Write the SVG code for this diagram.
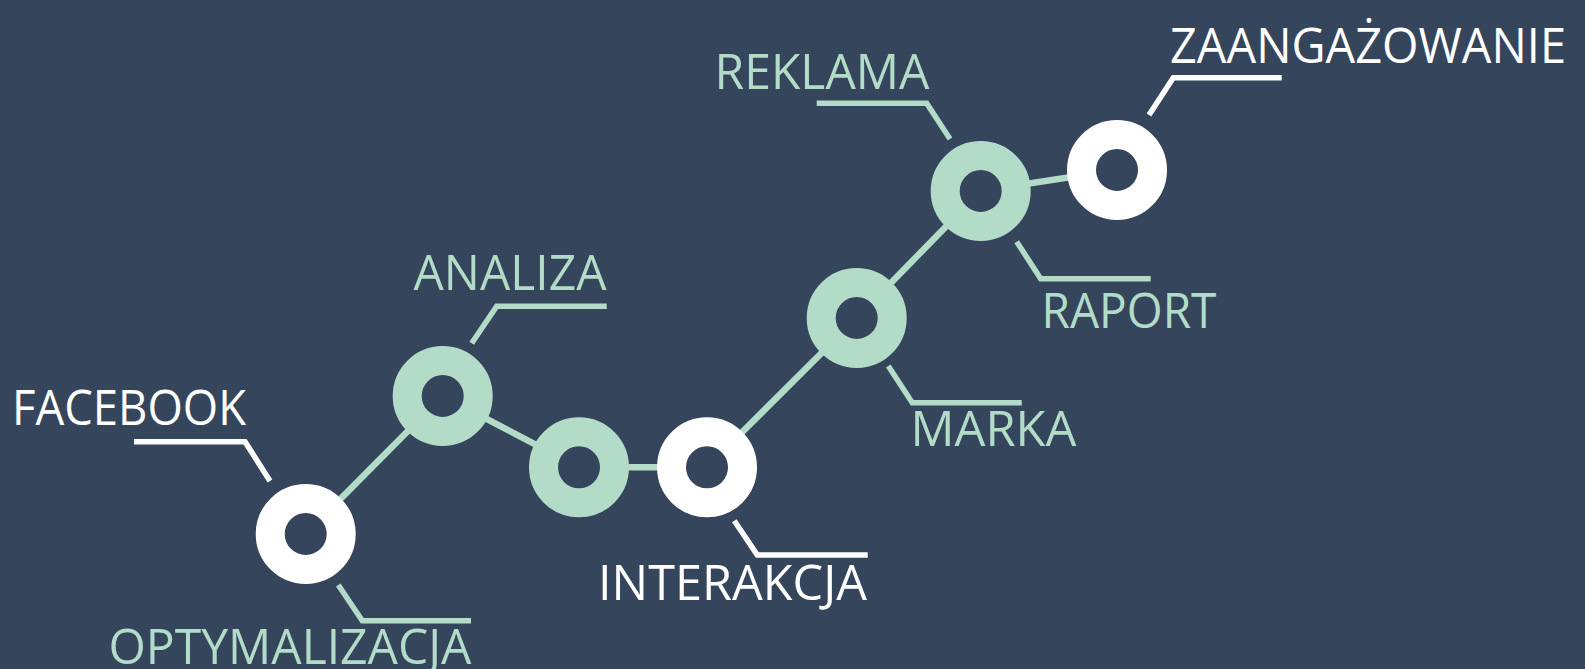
<svg xmlns="http://www.w3.org/2000/svg" width="1585" height="669" viewBox="0 0 1585 669">
<style>
.bg{fill:#35455c}
.conn{stroke:#b3dcc8;stroke-width:6.5;fill:none}
.lw{stroke:#ffffff;stroke-width:5.5;fill:none}
.lg{stroke:#b3dcc8;stroke-width:5.5;fill:none}
.nw{fill:#35455c;stroke:#ffffff;stroke-width:29}
.ng{fill:#35455c;stroke:#b3dcc8;stroke-width:29}
.t{font-family:"Open Sans","Noto Sans","Liberation Sans",sans-serif;font-size:49px}
.tw{fill:#ffffff}
.tg{fill:#b3dcc8}
</style>
<rect class="bg" x="0" y="0" width="1585" height="669"/>
<g id="connectors">
<line class="conn" x1="305.7" y1="534" x2="442.7" y2="396"/>
<line class="conn" x1="442.7" y1="396" x2="579" y2="467.3"/>
<line class="conn" x1="579" y1="467.3" x2="707" y2="467.3"/>
<line class="conn" x1="707" y1="467.3" x2="856.7" y2="318"/>
<line class="conn" x1="856.7" y1="318" x2="980.7" y2="191"/>
<line class="conn" x1="980.7" y1="191" x2="1117" y2="170"/>
</g>
<g id="node-facebook">
<circle class="nw" cx="305.7" cy="534" r="35.5"/>
<path class="lw" d="M134 441.7 H245 L270 481"/>
<text class="t tw" x="12" y="425" textLength="234" lengthAdjust="spacingAndGlyphs">FACEBOOK</text>
<path class="lg" d="M338.3 585 L362.3 620.7 H471"/>
<text class="t tg" x="108.5" y="663.5" textLength="363" lengthAdjust="spacingAndGlyphs">OPTYMALIZACJA</text>
</g>
<g id="node-analiza">
<circle class="ng" cx="442.7" cy="396" r="35.5"/>
<path class="lg" d="M471.7 343.3 L496.7 306.3 H606.7"/>
<text class="t tg" x="413.5" y="290" textLength="193" lengthAdjust="spacingAndGlyphs">ANALIZA</text>
</g>
<g id="node-3">
<circle class="ng" cx="579" cy="467.3" r="35.5"/>
</g>
<g id="node-interakcja">
<circle class="nw" cx="707" cy="467.3" r="35.5"/>
<path class="lw" d="M734.3 520.7 L757.3 555 H867.7"/>
<text class="t tw" x="598" y="600.3" textLength="269" lengthAdjust="spacingAndGlyphs">INTERAKCJA</text>
</g>
<g id="node-marka">
<circle class="ng" cx="856.7" cy="318" r="35.5"/>
<path class="lg" d="M888.3 366 L912.3 402.7 H1021.7"/>
<text class="t tg" x="910.5" y="445.7" textLength="166" lengthAdjust="spacingAndGlyphs">MARKA</text>
</g>
<g id="node-reklama">
<circle class="ng" cx="980.7" cy="191" r="35.5"/>
<path class="lg" d="M816.7 103.3 H926.7 L950 139"/>
<text class="t tg" x="714.5" y="89.3" textLength="215" lengthAdjust="spacingAndGlyphs">REKLAMA</text>
<path class="lg" d="M1016.7 241.7 L1040.7 278.7 H1150.7"/>
<text class="t tg" x="1041.5" y="328.3" textLength="175" lengthAdjust="spacingAndGlyphs">RAPORT</text>
</g>
<g id="node-zaangazowanie">
<circle class="nw" cx="1117" cy="170" r="35.5"/>
<path class="lw" d="M1149 115 L1173.3 77.7 H1281.7"/>
<text class="t tw" x="1170" y="63.3" textLength="396" lengthAdjust="spacingAndGlyphs">ZAANGAŻOWANIE</text>
</g>
</svg>
